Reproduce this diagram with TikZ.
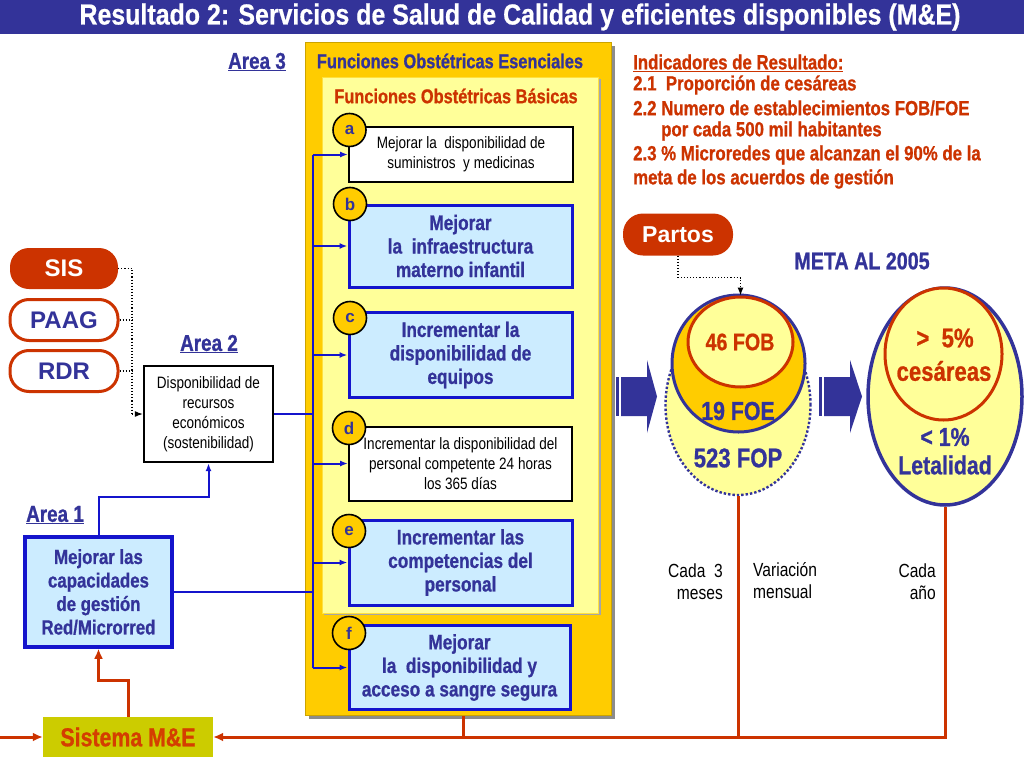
\documentclass[tikz,border=0pt]{standalone}
\usepackage{fontspec}
\setmainfont{Liberation Sans}
\newfontfamily\nf{Liberation Sans}[FakeStretch=0.82, BoldFeatures={FakeBold=0.8}]
\newfontfamily\tf{Liberation Sans}[FakeStretch=0.86, BoldFeatures={FakeBold=0.6}]
\usetikzlibrary{arrows.meta,shapes.geometric}
\definecolor{dblue}{HTML}{333399}
\definecolor{bblue}{HTML}{1414CC}
\definecolor{lblue}{HTML}{CCECFF}
\definecolor{rorange}{HTML}{CC3300}
\definecolor{gold}{HTML}{FFCC00}
\definecolor{lyellow}{HTML}{FFFF99}
\definecolor{olivebox}{HTML}{CCCC00}
\tikzset{
  bluebox/.style={draw=bblue, line width=3pt, fill=lblue, align=center, inner sep=0pt, text=dblue,
    font=\nf\bfseries\fontsize{21}{23.5}\selectfont},
  whitebox/.style={draw=black, line width=2pt, fill=white, align=center, inner sep=0pt,
    font=\nf\fontsize{16.5}{20}\selectfont},
  letter/.style={circle, draw=black, line width=1.6pt, fill=gold, minimum size=33pt, inner sep=0pt,
    text=dblue, font=\bfseries\fontsize{17}{17}\selectfont},
  pill/.style={rounded corners=19pt, minimum width=108pt, minimum height=41pt, inner sep=0pt,
    font=\bfseries\fontsize{24}{24}\selectfont},
  arealabel/.style={text=dblue, font=\nf\bfseries\fontsize{23}{23}\selectfont, inner sep=0pt},
  ind/.style={text=rorange, font=\nf\bfseries\fontsize{20.5}{20.5}\selectfont, inner sep=0pt, anchor=west},
  bluearrow/.style={draw=bblue, line width=2pt, -{Latex[length=8pt,width=6pt]}},
  blueline/.style={draw=bblue, line width=2.2pt},
  dotarrow/.style={draw=black, line width=1.1pt, dotted, -{Latex[length=8pt,width=6pt]}},
  dotline/.style={draw=black, line width=1.1pt, dotted},
  redline/.style={draw=rorange, line width=3pt},
  redarrow/.style={draw=rorange, line width=3pt, -{Latex[length=10pt,width=9pt]}},
  bignum/.style={font=\nf\bfseries\fontsize{26}{26}\selectfont, inner sep=0pt},
  smalltxt/.style={font=\nf\fontsize{19}{22}\selectfont, inner sep=0pt},
}
\begin{document}
\begin{tikzpicture}[x=1pt,y=-1pt]
\useasboundingbox (0,0) rectangle (1024,768);
\fill[white] (0,0) rectangle (1024,768);
% title bar
\fill[dblue] (0,0) rectangle (1024,34);
\node[inner sep=0pt, text=white, font=\tf\bfseries\fontsize{29}{29}\selectfont] (title) at (520,17)
  {Resultado 2: Servicios de Salud de Calidad y eficientes disponibles (M\&E)};

% outer yellow box
\fill[black!45] (309,46) rectangle (615,719);
\node[fill=gold, draw=gold!80!black, line width=0.6pt, minimum width=306pt, minimum height=673pt, inner sep=0pt] (ofe) at (458,378.5) {};
\node[text=dblue, font=\nf\bfseries\fontsize{20}{20}\selectfont, inner sep=0pt] (ofet) at (450,61) {Funciones Obstétricas Esenciales};
% inner light yellow box
\fill[black!35] (324,79) rectangle (601,615);
\node[fill=lyellow, draw=gold!60!lyellow, line width=0.6pt, minimum width=276pt, minimum height=536pt, inner sep=0pt] (ofb) at (460,345) {};
\node[text=rorange, font=\nf\bfseries\fontsize{20}{20}\selectfont, inner sep=0pt] (ofbt) at (456,96) {Funciones Obstétricas Básicas};

% boxes a-f
\node[whitebox, minimum width=224pt, minimum height=55pt] (a) at (461,154.5) {Mejorar la~ disponibilidad de\\suministros~ y medicinas};
\node[bluebox, minimum width=223pt, minimum height=82pt] (b) at (460.5,246) {Mejorar\\la~ infraestructura\\materno infantil};
\node[bluebox, minimum width=223pt, minimum height=85pt] (c) at (460.5,355) {Incrementar la\\disponibilidad de\\equipos};
\node[whitebox, minimum width=223pt, minimum height=74pt] (d) at (460.5,463.5) {Incrementar la disponibilidad del\\personal competente 24 horas\\los 365 días};
\node[bluebox, minimum width=223pt, minimum height=85pt] (e) at (460.5,562.5) {Incrementar las\\competencias del\\personal};
\node[bluebox, minimum width=221pt, minimum height=84pt] (f) at (459.5,667.5) {Mejorar\\la~ disponibilidad y\\acceso a sangre segura};
\node[letter] (la) at (349.5,130) {a};
\node[letter] (lb) at (350,204) {b};
\node[letter] (lc) at (350,318) {c};
\node[letter] (ld) at (349,428) {d};
\node[letter] (le) at (349,531) {e};
\node[letter] (lf) at (349,633) {f};

% blue bus
\coordinate (bt) at (313,155);
\coordinate (bb) at (313,668);
\draw[blueline] (bt) -- (bb);
\draw[bluearrow] (a.west -| bt) -- (a.west);
\draw[bluearrow] (b.west -| bt) -- (b.west);
\draw[bluearrow] (c.west -| bt) -- (c.west);
\draw[bluearrow] (d.west -| bt) -- (d.west);
\draw[bluearrow] (e.west -| bt) -- (e.west);
\draw[bluearrow] (f.west -| bt) -- (f.west);

% Area labels
\node[arealabel] (ar3) at (257,62) {\underline{Area 3}};
\node[arealabel] (ar2) at (209,344) {\underline{Area 2}};
\node[arealabel] (ar1) at (55,515) {\underline{Area 1}};

% Area 2 box
\node[whitebox, line width=2.4pt, minimum width=129pt, minimum height=96pt] (a2) at (208.5,414) {Disponibilidad de\\recursos\\económicos\\(sostenibilidad)};
% Area 1 box
\node[bluebox, line width=3.5pt, minimum width=147pt, minimum height=110pt, font=\nf\bfseries\fontsize{20.5}{23.5}\selectfont] (a1) at (98.5,592) {Mejorar las\\capacidades\\de gestión\\Red/Microrred};

\draw[blueline] (a2.east) -- (a2.east -| bt);
\draw[blueline] (a1.east) -- (a1.east -| bt);
\draw[bluearrow] (a1.north) -- ++(0,-38) -| (a2.south);

% pills
\node[pill, fill=rorange, text=white] (sis) at (64,268.5) {SIS};
\node[pill, fill=white, draw=rorange, line width=3pt, text=dblue] (paag) at (64,320) {PAAG};
\node[pill, fill=white, draw=rorange, line width=3pt, text=dblue] (rdr) at (64,371) {RDR};
\coordinate (dv) at (132,300);
\draw[dotline] (sis.east) -- (sis.east -| dv) -- (a2.west -| dv);
\draw[dotline] (paag.east) -- (paag.east -| dv);
\draw[dotline] (rdr.east) -- (rdr.east -| dv);
\draw[dotarrow] (a2.west -| dv) -- (a2.west);

% Sistema M&E
\node[fill=olivebox, minimum width=170pt, minimum height=40pt, inner sep=0pt, text=rorange!85!orange,
  font=\nf\bfseries\fontsize{26}{26}\selectfont] (sys) at (128,737) {Sistema M\&E};
\draw[redarrow] (sys.north) -- ++(0,-36) -| (a1.south);
\coordinate (lin) at (0,737);
\draw[redarrow] (lin) -- (sys.west);

% indicators
\node[ind] (i0) at (633,63) {\underline{Indicadores de Resultado:}};
\node[ind] (i1) at (633,85) {2.1~ Proporción de cesáreas};
\node[ind] (i2) at (633,108) {2.2 Numero de establecimientos FOB/FOE};
\node[ind] (i3) at (661,131) {por cada 500 mil habitantes};
\node[ind] (i4) at (633,155) {2.3 \% Microredes que alcanzan el 90\% de la};
\node[ind] (i5) at (633,179) {meta de los acuerdos de gestión};

% Partos & META
\node[pill, rounded corners=20pt, minimum width=110pt, minimum height=42pt, fill=rorange, text=white, font=\bfseries\fontsize{23}{23}\selectfont] (partos) at (678,234.5) {Partos};
\node[text=dblue, font=\nf\bfseries\fontsize{24}{24}\selectfont, inner sep=0pt] (meta) at (862,261) {META AL 2005};

% block arrows
\fill[dblue] (616,377) rectangle (619,416);
\fill[dblue] (621,377) -- (647,377) -- (647,360) -- (657,396.5) -- (647,433) -- (647,416) -- (621,416) -- cycle;
\fill[dblue] (819,377) rectangle (822,416);
\fill[dblue] (824,377) -- (850,377) -- (850,360) -- (862,396.5) -- (850,433) -- (850,416) -- (824,416) -- cycle;

% first ellipses
\node[ellipse, draw=dblue, dotted, line width=2.4pt, fill=lyellow, minimum width=145pt, minimum height=180pt, inner sep=0pt] (e1) at (738,405) {};
\node[ellipse, draw=dblue, line width=3pt, fill=gold, minimum width=133pt, minimum height=137pt, inner sep=0pt] (g1) at (738.5,363.5) {};
\node[ellipse, draw=rorange, line width=3pt, fill=lyellow, minimum width=105pt, minimum height=90pt, inner sep=0pt] (fob) at (740.5,342) {};
\node[bignum, text=rorange, font=\nf\bfseries\fontsize{24}{24}\selectfont] (t46) at (740,342) {46 FOB};
\node[bignum, text=dblue] (t19) at (738,411) {19 FOE};
\node[bignum, text=dblue, font=\nf\bfseries\fontsize{27}{27}\selectfont] (t523) at (738,458) {523 FOP};
\draw[dotarrow] (partos.south) -- ++(0,22) -| (fob.north);

% right ellipses
\node[ellipse, draw=dblue, line width=3.5pt, fill=lyellow, minimum width=154pt, minimum height=217pt, inner sep=0pt] (e2) at (945,396.5) {};
\node[ellipse, draw=rorange, line width=3pt, fill=lyellow, minimum width=117pt, minimum height=132pt, inner sep=0pt] (ces) at (943.5,354) {};
\node[bignum, text=rorange, font=\nf\bfseries\fontsize{27}{27}\selectfont] (t5) at (945,338) {>~ 5\%};
\node[bignum, text=rorange, font=\nf\bfseries\fontsize{27}{27}\selectfont] (tces) at (944,371) {cesáreas};
\node[bignum, text=dblue] (t1) at (945,437) {< 1\%};
\node[bignum, text=dblue] (tlet) at (945,465) {Letalidad};

% red feedback lines
\coordinate (ofeb) at (463,716);
\draw[redline] (e1.south) -- (e1.south |- sys.east);
\draw[redline] (ofeb) -- (ofeb |- sys.east);
\draw[redarrow] (e2.south) |- (sys.east);

% frequency labels
\node[smalltxt, align=right, anchor=north east] (l1) at (723,564) {Cada~ 3\\meses};
\node[smalltxt, align=left, anchor=north west] (l2) at (753,562) {Variación\\mensual};
\node[smalltxt, align=right, anchor=north east] (l3) at (936,564) {Cada\\año};
\end{tikzpicture}
\end{document}
